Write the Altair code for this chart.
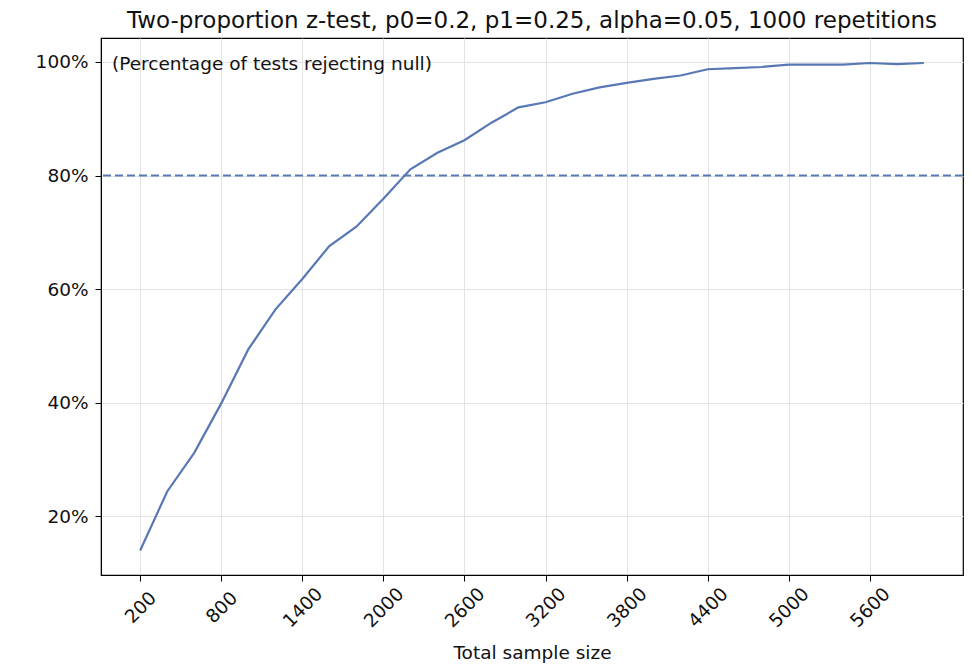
import altair as alt
import pandas as pd

# Data
sample_sizes = [200, 400, 600, 800, 1000, 1200, 1400, 1600, 1800, 2000,
                2200, 2400, 2600, 2800, 3000, 3200, 3400, 3600, 3800, 4000,
                4200, 4400, 4600, 4800, 5000, 5200, 5400, 5600, 5800, 6000]
reject_pct = [14.0, 24.4, 31.2, 39.9, 49.4, 56.4, 61.8, 67.6, 71.0, 75.9,
              81.1, 84.0, 86.2, 89.3, 92.0, 92.9, 94.4, 95.5, 96.3, 97.0,
              97.6, 98.7, 98.9, 99.1, 99.5, 99.5, 99.5, 99.8, 99.6, 99.8]
x_ticks = [200, 800, 1400, 2000, 2600, 3200, 3800, 4400, 5000, 5600]
y_ticks = [20, 40, 60, 80, 100]
target_power = [80]
note = ["(Percentage of tests rejecting null)"]

df = pd.DataFrame({"n": sample_sizes, "pct": reject_pct})
df_rule = pd.DataFrame({"pct": target_power})
df_note = pd.DataFrame({"label": note})

FONT = "DejaVu Sans"
BLUE = "#5878b5"

x_scale = alt.Scale(domain=[-90, 6290], nice=False, zero=False)
y_scale = alt.Scale(domain=[9.7, 104.2], nice=False, zero=False)

x_axis = alt.Axis(
    values=x_ticks, format="d", title="Total sample size",
    labelAngle=-45, labelAlign="center", labelBaseline="middle",
    labelPadding=26, tickSize=6, tickColor="black", domainColor="black",
    labelFont=FONT, labelFontSize=18.5, labelColor="#111111",
    titleFont=FONT, titleFontSize=18.5, titleFontWeight="normal", titleColor="#111111",
    titleY=83, titleBaseline="alphabetic",
    gridColor="#e3e3e3", gridWidth=1, labelFlush=False, labelOverlap=False,
)
y_axis = alt.Axis(
    values=y_ticks, labelExpr="datum.value + '%'", title=None,
    tickSize=6, tickColor="black", domainColor="black", labelPadding=7,
    labelFont=FONT, labelFontSize=18.5, labelColor="#111111",
    gridColor="#e3e3e3", gridWidth=1, labelFlush=False,
)

line = alt.Chart(df).mark_line(color=BLUE, strokeWidth=2.2).encode(
    x=alt.X("n:Q", scale=x_scale, axis=x_axis),
    y=alt.Y("pct:Q", scale=y_scale, axis=y_axis),
)

rule = alt.Chart(df_rule).mark_rule(color=BLUE, strokeWidth=2, strokeDash=[8, 4]).encode(
    y=alt.Y("pct:Q", scale=y_scale),
)

text = alt.Chart(df_note).mark_text(
    align="left", baseline="middle", font=FONT, fontSize=18.5, color="#111111"
).encode(
    x=alt.value(11), y=alt.value(26), text="label:N"
)

chart = alt.layer(rule, line, text).properties(
    width=862, height=537,
    background="white",
    title=alt.TitleParams(
        "Two-proportion z-test, p0=0.2, p1=0.25, alpha=0.05, 1000 repetitions",
        font=FONT, fontSize=23, fontWeight="normal", color="#111111",
        anchor="middle", offset=5, frame="group",
    ),
    padding={"left": 93, "top": 30, "right": 1, "bottom": 92},
    autosize=alt.AutoSizeParams(type="none"),
).configure_view(
    stroke="black", strokeWidth=1.2
)

chart.save("out.html", embed_options={"renderer": "svg", "actions": False})
